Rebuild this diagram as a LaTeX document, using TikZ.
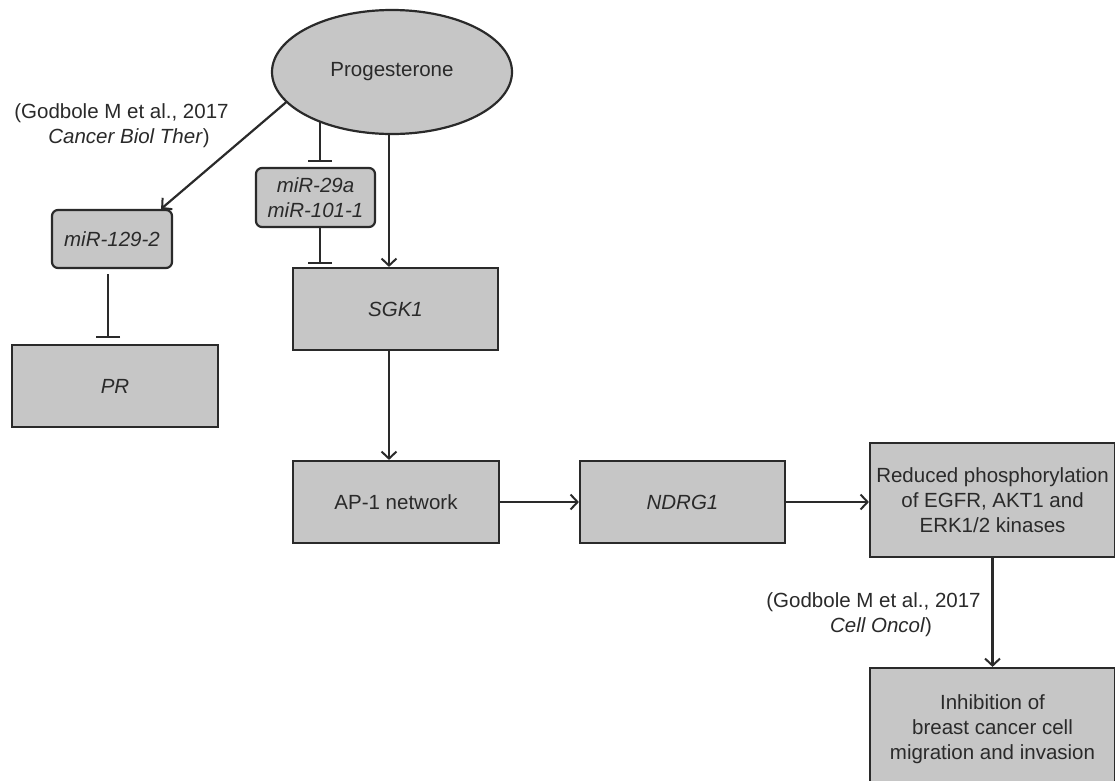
\documentclass[tikz,border=0pt]{standalone}
\usepackage{fontspec}
\setmainfont{Liberation Sans}
\usetikzlibrary{shapes.geometric,arrows.meta}
\definecolor{boxfill}{HTML}{C6C6C6}
\definecolor{ink}{HTML}{2A2A2A}
\begin{document}
\begin{tikzpicture}[x=1pt,y=-1pt,
  every node/.style={font=\fontsize{20.5}{25}\selectfont, text=ink},
  gbox/.style={draw=ink, line width=2.2pt, fill=boxfill, rectangle, inner sep=0pt, align=center},
  rbox/.style={gbox, rounded corners=6pt},
  oval/.style={draw=ink, line width=2.2pt, fill=boxfill, ellipse, inner sep=0pt},
  arr/.style={draw=ink, line width=2.2pt, -{Straight Barb[length=7pt,width=15pt,line width=2pt]}},
  inhib/.style={draw=ink, line width=2.2pt, -{Bar[width=24pt,line width=2.2pt]}},
  cite/.style={inner sep=0pt}
]
\clip (0,0) rectangle (1115,780);
\fill[white] (0,0) rectangle (1115,780);

\node[oval, minimum width=240pt, minimum height=124pt] (prog) at (392,72) {\raisebox{-3pt}{Progesterone}};
\node[rbox, minimum width=120pt, minimum height=58pt] (mir129) at (112,239) {\itshape miR-129-2};
\node[rbox, minimum width=119pt, minimum height=59pt] (mir29) at (315.5,197.5) {\itshape miR-29a\\\itshape miR-101-1};
\node[gbox, minimum width=205pt, minimum height=82pt] (sgk) at (395.5,309) {\itshape SGK1};
\node[gbox, minimum width=206pt, minimum height=82pt] (pr) at (115,386) {\itshape PR};
\node[gbox, minimum width=206pt, minimum height=82pt] (ap1) at (396,502) {AP-1 network};
\node[gbox, minimum width=205pt, minimum height=82pt] (ndrg) at (682.5,502) {\itshape NDRG1};
\node[gbox, minimum width=245pt, minimum height=114pt] (red) at (992.5,500) {Reduced phosphorylation\\of EGFR, AKT1 and\\ERK1/2 kinases};
\node[gbox, minimum width=245pt, minimum height=122pt] (inh) at (992.5,729) {Inhibition of\\breast cancer cell\\migration and invasion};

\node[cite] (citeAa) at (121.5,113) {(Godbole M et al., 2017};
\node[cite] (citeAb) at (129,138) {\textit{Cancer Biol Ther})};
\node[cite] (citeBa) at (873.5,602) {(Godbole M et al., 2017};
\node[cite] (citeBb) at (881,627) {\textit{Cell Oncol})};

\coordinate (x320) at (320,122);
\coordinate (x389) at (389,0);
\coordinate (x108) at (108,0);

\draw[arr] (prog.196) -- ([xshift=-12pt]mir129.north east);
\draw[inhib] (x320) -- ([yshift=5pt]mir29.north -| x320);
\draw[inhib] (mir29.south -| x320) -- ([yshift=3pt]sgk.north -| x320);
\draw[arr] (prog.south -| x389) -- (sgk.north -| x389);
\draw[inhib] ([yshift=-5pt]mir129.south -| x108) -- ([yshift=6pt]pr.north -| x108);
\draw[arr] (sgk.south -| x389) -- (ap1.north -| x389);
\draw[arr] (ap1.east) -- (ndrg.west);
\draw[arr] (ndrg.east) -- (red.west |- ndrg.east);
\draw[arr] (red.south) -- (inh.north);
\end{tikzpicture}
\end{document}
